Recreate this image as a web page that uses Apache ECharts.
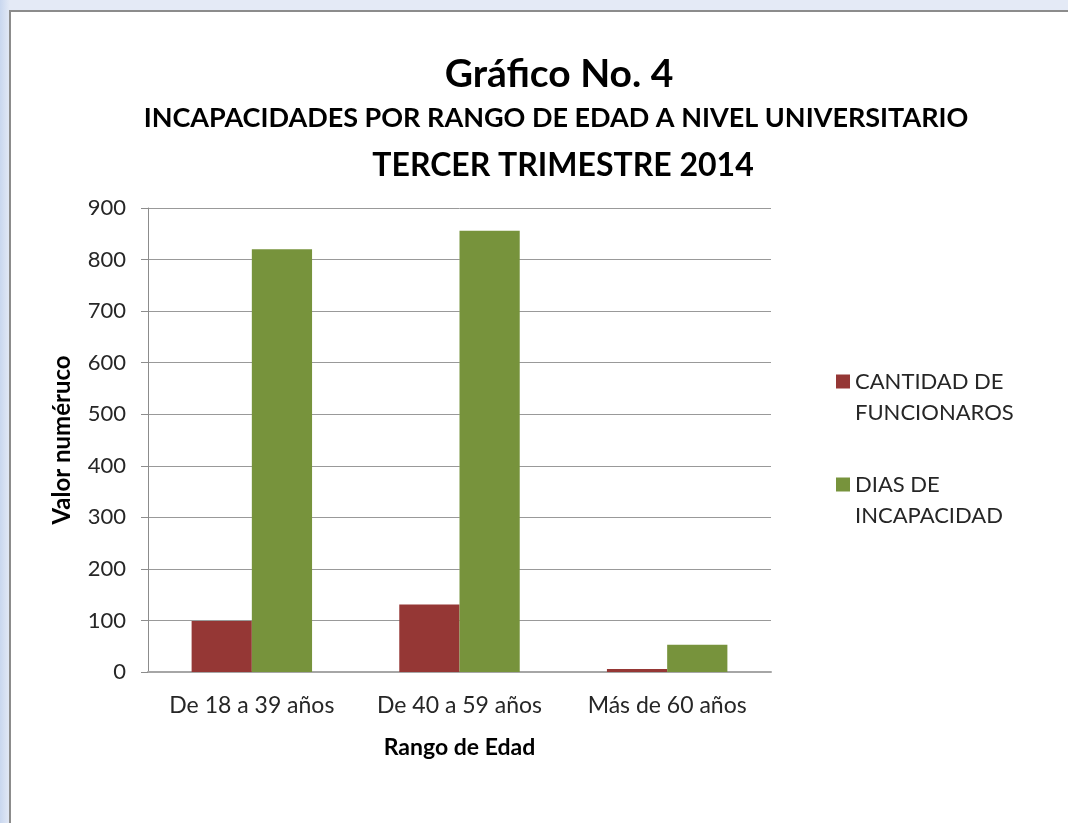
<!DOCTYPE html>
<html>
<head>
    <meta charset="utf-8">
    <title>Grafico No. 4</title>
    <script src="https://cdn.jsdelivr.net/npm/echarts@6/dist/echarts.min.js"></script>
    <style>
        html, body { margin: 0; padding: 0; }
        body {
            width: 1068px; height: 823px; overflow: hidden; position: relative;
            background: linear-gradient(90deg, #c9d7ef 0px, #e4eaf6 10px, #e4eaf6 100%);
        }
        #main {
            position: absolute; left: 9px; top: 10px; width: 1070px; height: 830px;
            background: #fff; border-left: 2px solid #8c8c8c; border-top: 2px solid #8c8c8c;
        }
    </style>
</head>
<body>
	<div id="main"></div>
	<script type="text/javascript">
	  // data
	  var categories = ['De 18 a 39 años', 'De 40 a 59 años', 'Más de 60 años'];
	  var funcionarios = [99, 131, 6];
	  var diasIncapacidad = [820, 856, 53];
	  var seriesNames = ['CANTIDAD DE\nFUNCIONAROS', 'DIAS DE\nINCAPACIDAD'];
	  var yTicks = { min: 0, max: 900, interval: 100 };

	  var font = 'Lato, "Open Sans", sans-serif';
	  var myChart = echarts.init(document.getElementById('main'));
	  var option = {
		animation: false,
		textStyle: { fontFamily: font },
		title: [
		  { text: 'Gráfico No. 4', left: 543, top: 38, textAlign: 'center',
		    textStyle: { fontSize: 39, fontWeight: 'bold', color: '#000', fontFamily: font } },
		  { text: 'INCAPACIDADES POR RANGO DE EDAD A NIVEL UNIVERSITARIO', left: 540, top: 88, textAlign: 'center',
		    textStyle: { fontSize: 27, fontWeight: 'bold', color: '#000', fontFamily: font } },
		  { text: 'TERCER TRIMESTRE 2014', left: 547, top: 133, textAlign: 'center',
		    textStyle: { fontSize: 32, fontWeight: 'bold', color: '#000', fontFamily: font } }
		],
		grid: { left: 137, top: 196, width: 623, height: 464 },
		legend: {
		  orient: 'vertical',
		  left: 820, top: 318,
		  itemWidth: 14, itemHeight: 14, itemGap: 10,
		  icon: 'rect',
		  data: seriesNames,
		  // blank first line so the marker sits beside the first text line
		  formatter: function (name) { return '\n' + name; },
		  textStyle: { fontSize: 22, color: '#262626', lineHeight: 31, fontFamily: font }
		},
		xAxis: {
		  type: 'category',
		  data: categories,
		  name: 'Rango de Edad',
		  nameLocation: 'middle',
		  nameGap: 64,
		  nameTextStyle: { fontSize: 23, fontWeight: 'bold', color: '#000', fontFamily: font },
		  axisLine: { lineStyle: { color: '#a6a6a6', width: 2 } },
		  axisTick: { show: false },
		  axisLabel: { interval: 0, hideOverlap: false, fontSize: 23, color: '#262626', margin: 22, fontFamily: font }
		},
		yAxis: {
		  type: 'value',
		  min: yTicks.min, max: yTicks.max, interval: yTicks.interval,
		  name: 'Valor numéruco',
		  nameLocation: 'middle',
		  nameGap: 74,
		  nameTextStyle: { fontSize: 24, fontWeight: 'bold', color: '#000', fontFamily: font },
		  axisLine: { show: true, lineStyle: { color: '#8c8c8c', width: 1 } },
		  axisTick: { show: true, length: 7, lineStyle: { color: '#8c8c8c' } },
		  axisLabel: { fontSize: 22, color: '#262626', margin: 22, fontFamily: font },
		  splitLine: { show: true, lineStyle: { color: '#999', width: 1 } }
		},
		series: [
		  { name: seriesNames[0], type: 'bar', data: funcionarios, barGap: '0%', barCategoryGap: '42%',
		    itemStyle: { color: '#953735' } },
		  { name: seriesNames[1], type: 'bar', data: diasIncapacidad, barGap: '0%', barCategoryGap: '42%',
		    itemStyle: { color: '#77933C' } }
		]
	  };
	  myChart.setOption(option);
	</script>
</body>
</html>
